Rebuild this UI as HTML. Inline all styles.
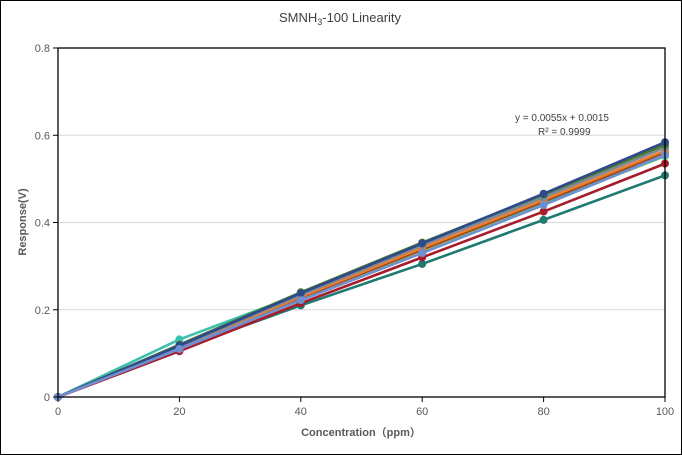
<!DOCTYPE html>
<html><head><meta charset="utf-8"><style>
body{margin:0;background:#fff;}
svg{display:block;font-family:"Liberation Sans","Noto Sans CJK SC",sans-serif;}
</style></head><body>
<svg id="chart" width="682" height="455">
<rect x="0.5" y="0.5" width="681" height="454" fill="#fff" stroke="#000"/>
<text x="340" y="22" text-anchor="middle" font-size="13" fill="#404040">SMNH<tspan font-size="9" dy="3">3</tspan><tspan dy="-3">-100 Linearity</tspan></text>
<g id="grid"></g><g id="series"></g><g id="axes"></g>
<text x="515" y="121" font-size="10" fill="#404040">y = 0.0055x + 0.0015</text>
<text x="538" y="135" font-size="10" fill="#404040">R² = 0.9999</text>
<text x="361" y="436" text-anchor="middle" font-size="11" font-weight="bold" fill="#595959">Concentration（ppm）</text>
<text transform="translate(26,222) rotate(-90)" text-anchor="middle" font-size="11" font-weight="bold" fill="#595959">Response(V)</text>
</svg>
<script>
const categories=[0,20,40,60,80,100];
const xTicks=["0","20","40","60","80","100"];
const yTicks=[0,0.2,0.4,0.6,0.8];
const yTickLabels=["0","0.2","0.4","0.6","0.8"];
const s1=[0,0.118,0.238,0.352,0.466,0.584];
const s2=[0,0.120,0.240,0.354,0.464,0.578];
const s3=[0,0.116,0.234,0.348,0.458,0.572];
const s4=[0,0.114,0.230,0.342,0.452,0.565];
const s5=[0,0.112,0.228,0.338,0.448,0.560];
const s6=[0,0.132,0.236,0.340,0.446,0.553];
const s7=[0,0.112,0.226,0.334,0.444,0.552];
const s8=[0,0.110,0.222,0.330,0.440,0.555];
const s9=[0,0.105,0.215,0.320,0.425,0.535];
const s10=[0,0.110,0.210,0.305,0.406,0.508];
const seriesList=[[s10,"#1f7a70"],[s9,"#a61c2a"],[s7,"#8fc25a"],[s6,"#3ec0b0"],[s5,"#9e4a1a"],[s4,"#ed7d31"],[s3,"#7a8a9a"],[s2,"#4a7a2e"],[s1,"#2f4a8a"],[s8,"#6f8fd0"]];
const L=58,R=665,T=48,B=397;
const X=v=>L+(v-0)/100*(R-L);
const Y=v=>B-v/0.8*(B-T);
const NS="http://www.w3.org/2000/svg";
function mk(t,a,p){const e=document.createElementNS(NS,t);for(const k in a)e.setAttribute(k,a[k]);p.appendChild(e);return e;}
const grid=document.getElementById('grid'),axes=document.getElementById('axes'),ser=document.getElementById('series');
yTicks.forEach((v,i)=>{
 if(v>0&&v<0.8){const g=mk('line',{x1:L,x2:R,y1:Y(v),y2:Y(v),stroke:'#d9d9d9'},grid);
 
 }
 const t=mk('line',{x1:L-5,x2:L,y1:Y(v),y2:Y(v),stroke:'#000'},axes);
 
 
 const tx=mk('text',{x:L-8,y:Y(v)+4,'text-anchor':'end','font-size':11,fill:'#595959'},axes);tx.textContent=yTickLabels[i];
 
 
});
categories.forEach((c,i)=>{
 const t=mk('line',{x1:X(c),x2:X(c),y1:B,y2:B+5,stroke:'#000'},axes);
 
 
 const tx=mk('text',{x:X(c),y:B+18,'text-anchor':'middle','font-size':11,fill:'#595959'},axes);tx.textContent=xTicks[i];
 
 
});
const box=mk('rect',{x:L,y:T,width:R-L,height:B-T,fill:'none',stroke:'#000','stroke-width':1.3},axes);


seriesList.forEach(([d,c],k)=>{
 const pl=mk('polyline',{points:d.map((v,i)=>X(categories[i])+','+Y(v)).join(' '),fill:'none',stroke:c,'stroke-width':2.6},ser);
 
 
 d.forEach((v,i)=>{const m=mk('circle',{cx:X(categories[i]),cy:Y(v),r:4,fill:c},ser);
 
 });
});
</script>
</body></html>
